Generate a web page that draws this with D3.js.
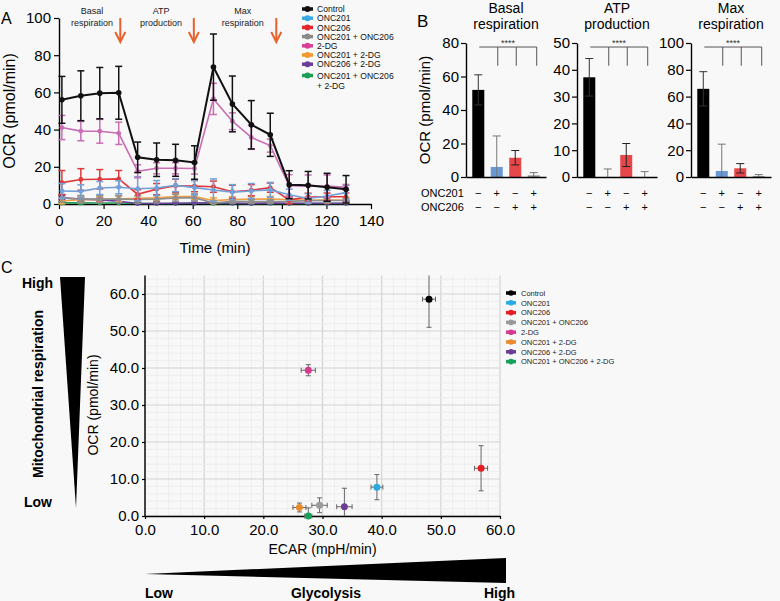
<!DOCTYPE html>
<html>
<head>
<meta charset="utf-8">
<script src="https://cdn.jsdelivr.net/npm/d3@7"></script>
<style>
  body { margin: 0; background: #f8f8f8; }
  svg { font-family: "Liberation Sans", Arial, sans-serif; display: block; }
</style>
</head>
<body>
<svg id="fig" width="780" height="601"></svg>
<script>
// ---- data: panel A (OCR time course) ----
var groups = ["Control", "ONC201", "ONC206", "ONC201 + ONC206", "2-DG", "ONC201 + 2-DG", "ONC206 + 2-DG", "ONC201 + ONC206 + 2-DG"];
var timeMin = [1.3, 9.8, 18.3, 26.8, 35.3, 43.8, 52.3, 60.8, 69.3, 77.8, 86.3, 94.8, 103.3, 111.8, 120.3, 128.8];
var ocrControl = [56.0, 58.2, 59.6, 59.8, 25.1, 23.8, 23.5, 22.3, 73.6, 53.8, 42.6, 37.2, 10.4, 10.1, 9.0, 7.9];
var errControl = [12.6, 13.4, 13.8, 14.2, 8.2, 9.0, 8.6, 9.0, 17.8, 15.0, 13.0, 11.6, 7.5, 7.4, 7.5, 7.4];
var ocrOnc201 = [7.0, 6.8, 8.6, 9.0, 8.2, 8.6, 10.1, 8.8, 7.5, 6.4, 7.0, 7.6, 5.0, 3.0, 4.3, 6.1];
var errOnc201 = [4.0, 3.5, 3.5, 3.5, 6.5, 4.0, 3.5, 4.0, 6.0, 4.0, 4.0, 4.0, 3.0, 2.5, 3.0, 4.0];
var ocrOnc206 = [11.5, 13.2, 13.3, 13.5, 5.2, 8.0, 9.8, 9.6, 9.3, 6.6, 7.4, 8.8, 2.2, 3.8, 3.9, 3.9];
var errOnc206 = [6.5, 5.8, 5.2, 4.5, 2.5, 3.0, 3.5, 3.0, 3.0, 3.5, 3.0, 2.5, 2.0, 2.0, 2.0, 2.0];
var ocrCombo = [3.2, 2.6, 2.6, 2.6, 2.4, 2.6, 3.3, 3.4, 0.5, 1.5, 1.3, 1.3, 1.4, 1.8, 1.9, 1.9];
var errCombo = [2, 2, 2, 2, 2, 2, 2, 2, 1, 1, 1, 1, 1, 1, 1, 1];
var ocr2DG = [41.1, 39.2, 39.1, 38.0, 17.6, 19.2, 19.2, 19.1, 56.5, 44.5, 35.8, 31.4, 9.8, 9.6, 9.6, 9.0];
var err2DG = [6.5, 5.2, 6.4, 6.0, 3.5, 3.0, 3.0, 3.0, 8.4, 4.5, 6.4, 3.5, 6.0, 6.0, 6.0, 1.5];
var ocr201DG = [1.6, 2.3, 2.5, 2.7, 3.0, 3.3, 4.0, 4.0, 1.8, 2.4, 2.6, 2.6, 2.4, 2.0, 2.1, 2.0];
var err201DG = [1.5, 1.5, 1.5, 1.5, 1.5, 1.5, 1.5, 1.5, 1.5, 1.5, 1.5, 1.5, 1.5, 1.5, 1.5, 1.5];
var ocr206DG = [3.4, 2.6, 2.2, 1.5, 0.3, 0.3, 0.4, 0.5, 0.6, 0.5, 0.3, 0.6, 0.4, 0.4, 0.4, 0.4];
var err206DG = [1, 1, 1, 1, 1, 1, 1, 1, 1, 1, 1, 1, 1, 1, 1, 1];
var ocrTriple = [0.6, 0.6, 0.5, 0.5, 0.3, 0.3, 0.3, 0.4, 0.3, 0.3, 0.3, 0.3, 0.3, 0.3, 0.3, 0.3];
var errTriple = [0.5, 0.5, 0.5, 0.5, 0.5, 0.5, 0.5, 0.5, 0.5, 0.5, 0.5, 0.5, 0.5, 0.5, 0.5, 0.5];
var injectionTimes = [27.5, 60.5, 97.5];
var phaseLabels = [["Basal", "respiration"], ["ATP", "production"], ["Max", "respiration"]];
var phaseCenters = [14.8, 45.8, 82.5];

// ---- data: panel B (bar summaries) ----
var barGroups = ["Control", "ONC201", "ONC206", "ONC201 + ONC206"];
var basalResp = [52.0, 6.0, 11.5, 1.0];
var basalErr = [9.0, 18.5, 4.3, 1.6];
var atpProd = [37.2, 0.0, 8.2, 0.0];
var atpErr = [7.0, 3.0, 4.3, 2.0];
var maxResp = [65.8, 4.5, 6.5, 0.8];
var maxErr = [12.8, 20.0, 3.5, 1.0];
var onc201Signs = ["\u2212", "+", "\u2212", "+"];
var onc206Signs = ["\u2212", "\u2212", "+", "+"];

// ---- data: panel C (energy map) ----
var ecarMean = [48.0, 39.2, 56.8, 29.5, 27.6, 26.1, 33.7, 27.6];
var ecarErr = [1.1, 1.0, 1.1, 1.3, 1.2, 1.1, 1.3, 0.6];
var ocrMean = [58.6, 7.8, 12.9, 2.9, 39.4, 2.3, 2.5, 0.0];
var ocrErr = [7.6, 3.4, 6.1, 2.0, 1.5, 1.2, 5.0, 2.2];

var lineColors = ["#111111", "#72a0d8", "#e0393b", "#8e8e8e", "#c96db4", "#f0a044", "#6a3d9a", "#1e9e57"];
var keyColors = ["#111111", "#3aa8e0", "#e3262b", "#8a8a8a", "#d6409a", "#f3962c", "#6a3d9a", "#1b9e55"];
var dotColors = ["#000000", "#29abe2", "#e41e25", "#9a9a9a", "#d63a8f", "#e98a2e", "#6b3b96", "#16a05a"];
var barColors = ["#000000", "#6a98d4", "#e5474a", "#9a9a9a"];

var svg = d3.select("#fig");
svg.append("rect").attr("width", 780).attr("height", 601).attr("fill", "#f8f8f8");

function styleAxis(g, size) {
  g.select(".domain").attr("stroke", "#000").attr("stroke-width", 1.4);
  g.selectAll(".tick line").attr("stroke", "#000").attr("stroke-width", 1.2);
  g.selectAll(".tick text").attr("font-size", size).attr("fill", "#000")
    .attr("font-family", "Liberation Sans, Arial, sans-serif");
}

// ================= Panel A =================
var xA = d3.scaleLinear().domain([0, 140]).range([59, 371]);
var yA = d3.scaleLinear().domain([0, 100]).range([204, 18]);

svg.append("text").attr("x", 1).attr("y", 24).attr("font-size", 16).text("A");

var gxA = svg.append("g").attr("transform", "translate(0,204)")
  .call(d3.axisBottom(xA).tickValues(d3.range(0, 141, 20)).tickSize(5).tickSizeOuter(0).tickPadding(6));
styleAxis(gxA, 15);
var gyA = svg.append("g").attr("transform", "translate(59,0)")
  .call(d3.axisLeft(yA).tickValues(d3.range(0, 101, 20)).tickSize(5).tickSizeOuter(0).tickPadding(3));
styleAxis(gyA, 15);

svg.append("text").attr("x", xA(70)).attr("y", 253).attr("text-anchor", "middle")
  .attr("font-size", 15).text("Time (min)");
svg.append("text").attr("transform", "translate(15," + yA(50) + ") rotate(-90)")
  .attr("text-anchor", "middle").attr("font-size", 16).text("OCR (pmol/min)");

// phase labels and injection arrows
phaseLabels.forEach(function (lines, i) {
  lines.forEach(function (s, j) {
    svg.append("text").attr("x", xA(phaseCenters[i])).attr("y", 14 + j * 12)
      .attr("text-anchor", "middle").attr("font-size", 9).attr("fill", "#222").text(s);
  });
});
injectionTimes.forEach(function (t) {
  var x = xA(t);
  svg.append("line").attr("x1", x).attr("x2", x).attr("y1", 18).attr("y2", 41)
    .attr("stroke", "#e8612c").attr("stroke-width", 2);
  svg.append("path").attr("d", "M" + (x - 5) + ",32 L" + x + ",42 L" + (x + 5) + ",32")
    .attr("fill", "none").attr("stroke", "#e8612c").attr("stroke-width", 2);
});

var seriesA = [
  { name: groups[7], v: ocrTriple, e: errTriple, c: lineColors[7] },
  { name: groups[6], v: ocr206DG, e: err206DG, c: lineColors[6] },
  { name: groups[5], v: ocr201DG, e: err201DG, c: lineColors[5] },
  { name: groups[3], v: ocrCombo, e: errCombo, c: lineColors[3] },
  { name: groups[2], v: ocrOnc206, e: errOnc206, c: lineColors[2] },
  { name: groups[1], v: ocrOnc201, e: errOnc201, c: lineColors[1] },
  { name: groups[4], v: ocr2DG, e: err2DG, c: lineColors[4] },
  { name: groups[0], v: ocrControl, e: errControl, c: lineColors[0] }
];

var lineA = d3.line().x(function (d) { return xA(d.t); }).y(function (d) { return yA(d.v); });

seriesA.forEach(function (s) {
  var pts = timeMin.map(function (t, i) { return { t: t, v: s.v[i], e: s.e[i] }; });
  var g = svg.append("g");
  var w = s.name === "Control" ? 2 : 1.6;
  g.selectAll("line.eb").data(pts).enter().append("line")
    .attr("x1", function (d) { return xA(d.t); }).attr("x2", function (d) { return xA(d.t); })
    .attr("y1", function (d) { return yA(Math.max(0, d.v - d.e)); })
    .attr("y2", function (d) { return yA(d.v + d.e); })
    .attr("stroke", s.c).attr("stroke-width", 1.5);
  g.selectAll("line.cap").data(pts).enter().append("line")
    .attr("x1", function (d) { return xA(d.t) - 3.5; }).attr("x2", function (d) { return xA(d.t) + 3.5; })
    .attr("y1", function (d) { return yA(d.v + d.e); }).attr("y2", function (d) { return yA(d.v + d.e); })
    .attr("stroke", s.c).attr("stroke-width", 1.5);
  g.selectAll("line.cap2").data(pts.filter(function (d) { return d.v - d.e > 0; })).enter().append("line")
    .attr("x1", function (d) { return xA(d.t) - 3.5; }).attr("x2", function (d) { return xA(d.t) + 3.5; })
    .attr("y1", function (d) { return yA(d.v - d.e); }).attr("y2", function (d) { return yA(d.v - d.e); })
    .attr("stroke", s.c).attr("stroke-width", 1.5);
  g.append("path").datum(pts).attr("d", lineA).attr("fill", "none")
    .attr("stroke", s.c).attr("stroke-width", w);
  g.selectAll("circle").data(pts).enter().append("circle")
    .attr("cx", function (d) { return xA(d.t); }).attr("cy", function (d) { return yA(d.v); })
    .attr("r", s.name === "Control" ? 2.8 : 2.4).attr("fill", s.c);
});

// legend A
var legA = svg.append("g").attr("font-size", 8.6);
var legRowsA = [9, 18.2, 27.4, 36.6, 45.8, 55, 64.2, 75.5];
groups.forEach(function (name, i) {
  var y = legRowsA[i];
  legA.append("line").attr("x1", 302).attr("x2", 313).attr("y1", y).attr("y2", y)
    .attr("stroke", keyColors[i]).attr("stroke-width", 3.5);
  legA.append("circle").attr("cx", 307.5).attr("cy", y).attr("r", 3).attr("fill", keyColors[i]);
  var label = i === 7 ? ["ONC201 + ONC206", "+ 2-DG"] : [name];
  label.forEach(function (s, j) {
    legA.append("text").attr("x", 317).attr("y", y + 3.1 + j * 10.5).attr("fill", "#111").text(s);
  });
});

// ================= Panel B =================
svg.append("text").attr("x", 417).attr("y", 27).attr("font-size", 17).text("B");
svg.append("text").attr("transform", "translate(430,110) rotate(-90)")
  .attr("text-anchor", "middle").attr("font-size", 15).text("OCR (pmol/min)");

var panelsB = [
  { x0: 466, vals: basalResp, errs: basalErr, max: 80, step: 20, title: ["Basal", "respiration"] },
  { x0: 577, vals: atpProd, errs: atpErr, max: 50, step: 10, title: ["ATP", "production"] },
  { x0: 691, vals: maxResp, errs: maxErr, max: 100, step: 20, title: ["Max", "respiration"] }
];

panelsB.forEach(function (p, k) {
  var xB = d3.scaleBand().domain(barGroups).range([p.x0, p.x0 + 80]).paddingInner(0.35).paddingOuter(0.34);
  var yB = d3.scaleLinear().domain([0, p.max]).range([177, 43]);
  var g = svg.append("g");

  g.selectAll("rect").data(p.vals).enter().append("rect")
    .attr("x", function (d, i) { return xB(barGroups[i]); })
    .attr("width", xB.bandwidth())
    .attr("y", function (d) { return yB(d); })
    .attr("height", function (d) { return 177 - yB(d); })
    .attr("fill", function (d, i) { return barColors[i]; });

  p.vals.forEach(function (v, i) {
    var cx = xB(barGroups[i]) + xB.bandwidth() / 2;
    var top = v + p.errs[i], bot = Math.max(0, v - p.errs[i]);
    var col = i === 0 ? "#333" : (i === 2 ? "#222" : "#777");
    g.append("line").attr("x1", cx).attr("x2", cx).attr("y1", yB(bot)).attr("y2", yB(top))
      .attr("stroke", col).attr("stroke-width", 1);
    g.append("line").attr("x1", cx - 4).attr("x2", cx + 4).attr("y1", yB(top)).attr("y2", yB(top))
      .attr("stroke", col).attr("stroke-width", 1);
    if (bot > 0) {
      g.append("line").attr("x1", cx - 4).attr("x2", cx + 4).attr("y1", yB(bot)).attr("y2", yB(bot))
        .attr("stroke", col).attr("stroke-width", 1);
    }
  });

  var gx = g.append("g").attr("transform", "translate(0,177)")
    .call(d3.axisBottom(xB).tickSize(0).tickFormat(""));
  gx.select(".domain").attr("stroke", "#000").attr("stroke-width", 1.4);
  var gy = g.append("g").attr("transform", "translate(" + p.x0 + ",0)")
    .call(d3.axisLeft(yB).tickValues(d3.range(0, p.max + 1, p.step)).tickSize(5).tickSizeOuter(0).tickPadding(2));
  styleAxis(gy, 15);

  // significance bracket
  var c0 = xB(barGroups[0]) + xB.bandwidth() / 2 + 1;
  var cEnd = xB(barGroups[3]) + xB.bandwidth() / 2 + 3;
  var yTop = yB(p.max * 0.97), yDrop = yB(p.max * 0.83);
  g.append("line").attr("x1", c0).attr("x2", cEnd).attr("y1", yTop).attr("y2", yTop)
    .attr("stroke", "#555").attr("stroke-width", 1);
  [1, 2, 3].forEach(function (i) {
    var cx = i === 3 ? cEnd : xB(barGroups[i]) + xB.bandwidth() / 2 + 1;
    g.append("line").attr("x1", cx).attr("x2", cx).attr("y1", yTop).attr("y2", yDrop)
      .attr("stroke", "#555").attr("stroke-width", 1);
  });
  g.append("text").attr("x", (c0 + cEnd) / 2).attr("y", yTop - 1).attr("text-anchor", "middle")
    .attr("font-size", 9).attr("fill", "#333").text("****");

  p.title.forEach(function (s, j) {
    g.append("text").attr("x", p.x0 + 40).attr("y", 12.5 + j * 16).attr("text-anchor", "middle")
      .attr("font-size", 14).text(s);
  });

  [onc201Signs, onc206Signs].forEach(function (signs, r) {
    signs.forEach(function (s, i) {
      g.append("text").attr("x", xB(barGroups[i]) + xB.bandwidth() / 2).attr("y", 197 + r * 14)
        .attr("text-anchor", "middle").attr("font-size", 11).text(s);
    });
  });
});
svg.append("text").attr("x", 421).attr("y", 197).attr("font-size", 11).text("ONC201");
svg.append("text").attr("x", 421).attr("y", 211).attr("font-size", 11).text("ONC206");

// ================= Panel C =================
svg.append("text").attr("x", 1).attr("y", 273).attr("font-size", 16).text("C");

var xC = d3.scaleLinear().domain([0, 60]).range([145, 500]);
var yC = d3.scaleLinear().domain([0, 60]).range([516, 294]);
var topC = yC(65);

var grid = svg.append("g");
d3.range(0, 61, 2).forEach(function (v) {
  grid.append("line").attr("x1", xC(v)).attr("x2", xC(v)).attr("y1", yC(0)).attr("y2", topC)
    .attr("stroke", v % 10 === 0 ? "#d4d4d4" : "#ebebeb").attr("stroke-width", v % 10 === 0 ? 1.2 : 0.8);
});
d3.range(0, 65, 2).forEach(function (v) {
  grid.append("line").attr("x1", xC(0)).attr("x2", xC(60)).attr("y1", yC(v)).attr("y2", yC(v))
    .attr("stroke", v % 10 === 0 ? "#d4d4d4" : "#ebebeb").attr("stroke-width", v % 10 === 0 ? 1.2 : 0.8);
});

var gxC = svg.append("g").attr("transform", "translate(0," + yC(0) + ")")
  .call(d3.axisBottom(xC).tickValues(d3.range(0, 61, 10)).tickFormat(d3.format(".1f")).tickSize(3).tickSizeOuter(0).tickPadding(5));
styleAxis(gxC, 15);
var gyC = svg.append("g").attr("transform", "translate(145,0)")
  .call(d3.axisLeft(yC).tickValues(d3.range(0, 61, 10)).tickFormat(d3.format(".1f")).tickSize(3).tickSizeOuter(0).tickPadding(3));
styleAxis(gyC, 15);
gyC.select(".domain").attr("d", "M0," + topC + "V" + yC(0));

svg.append("text").attr("x", xC(30)).attr("y", 554).attr("text-anchor", "middle")
  .attr("font-size", 14).text("ECAR (mpH/min)");
svg.append("text").attr("transform", "translate(98," + yC(30) + ") rotate(-90)")
  .attr("text-anchor", "middle").attr("font-size", 14).text("OCR (pmol/min)");

var ptsC = groups.map(function (g, i) {
  return { name: g, x: ecarMean[i], xe: ecarErr[i], y: ocrMean[i], ye: ocrErr[i], c: dotColors[i] };
});
var gC = svg.append("g");
ptsC.forEach(function (d) {
  var yt = Math.min(65, d.y + d.ye), yb = Math.max(0, d.y - d.ye);
  gC.append("line").attr("x1", xC(d.x)).attr("x2", xC(d.x)).attr("y1", yC(yb)).attr("y2", yC(yt))
    .attr("stroke", "#666").attr("stroke-width", 1);
  [yt, yb].forEach(function (yy) {
    if (yy === 65 || (yy === 0 && d.y - d.ye < 0)) return;
    gC.append("line").attr("x1", xC(d.x) - 2.5).attr("x2", xC(d.x) + 2.5).attr("y1", yC(yy)).attr("y2", yC(yy))
      .attr("stroke", "#666").attr("stroke-width", 1);
  });
  gC.append("line").attr("x1", xC(d.x - d.xe)).attr("x2", xC(d.x + d.xe)).attr("y1", yC(d.y)).attr("y2", yC(d.y))
    .attr("stroke", "#666").attr("stroke-width", 1);
  [d.x - d.xe, d.x + d.xe].forEach(function (xx) {
    gC.append("line").attr("x1", xC(xx)).attr("x2", xC(xx)).attr("y1", yC(d.y) - 2.5).attr("y2", yC(d.y) + 2.5)
      .attr("stroke", "#666").attr("stroke-width", 1);
  });
});
gC.selectAll("circle").data(ptsC).enter().append("circle")
  .attr("cx", function (d) { return xC(d.x); }).attr("cy", function (d) { return yC(d.y); })
  .attr("r", 3.5).attr("fill", function (d) { return d.c; });

// legend C
var legC = svg.append("g").attr("font-size", 7.5);
groups.forEach(function (name, i) {
  var y = 293 + i * 9.8;
  legC.append("line").attr("x1", 506).attr("x2", 516).attr("y1", y).attr("y2", y)
    .attr("stroke", dotColors[i]).attr("stroke-width", 3.5);
  legC.append("circle").attr("cx", 511).attr("cy", y).attr("r", 2.8).attr("fill", dotColors[i]);
  legC.append("text").attr("x", 521).attr("y", y + 2.7).attr("fill", "#222").text(name);
});

// gradient wedges (mitochondrial respiration / glycolysis)
svg.append("path").attr("d", "M60,277 L85,277 L76,508 Z").attr("fill", "#000");
svg.append("text").attr("x", 53).attr("y", 288).attr("text-anchor", "end")
  .attr("font-size", 14).attr("font-weight", "bold").text("High");
svg.append("text").attr("x", 52).attr("y", 507).attr("text-anchor", "end")
  .attr("font-size", 14).attr("font-weight", "bold").text("Low");
svg.append("text").attr("transform", "translate(43,394) rotate(-90)").attr("text-anchor", "middle")
  .attr("font-size", 14).attr("font-weight", "bold").text("Mitochondrial respiration");

svg.append("path").attr("d", "M145,574 L506,558 L506,583 Z").attr("fill", "#000");
svg.append("text").attr("x", 145).attr("y", 598).attr("font-size", 14).attr("font-weight", "bold").text("Low");
svg.append("text").attr("x", 326).attr("y", 598).attr("text-anchor", "middle")
  .attr("font-size", 14).attr("font-weight", "bold").text("Glycolysis");
svg.append("text").attr("x", 515).attr("y", 598).attr("text-anchor", "end")
  .attr("font-size", 14).attr("font-weight", "bold").text("High");
</script>
</body>
</html>
